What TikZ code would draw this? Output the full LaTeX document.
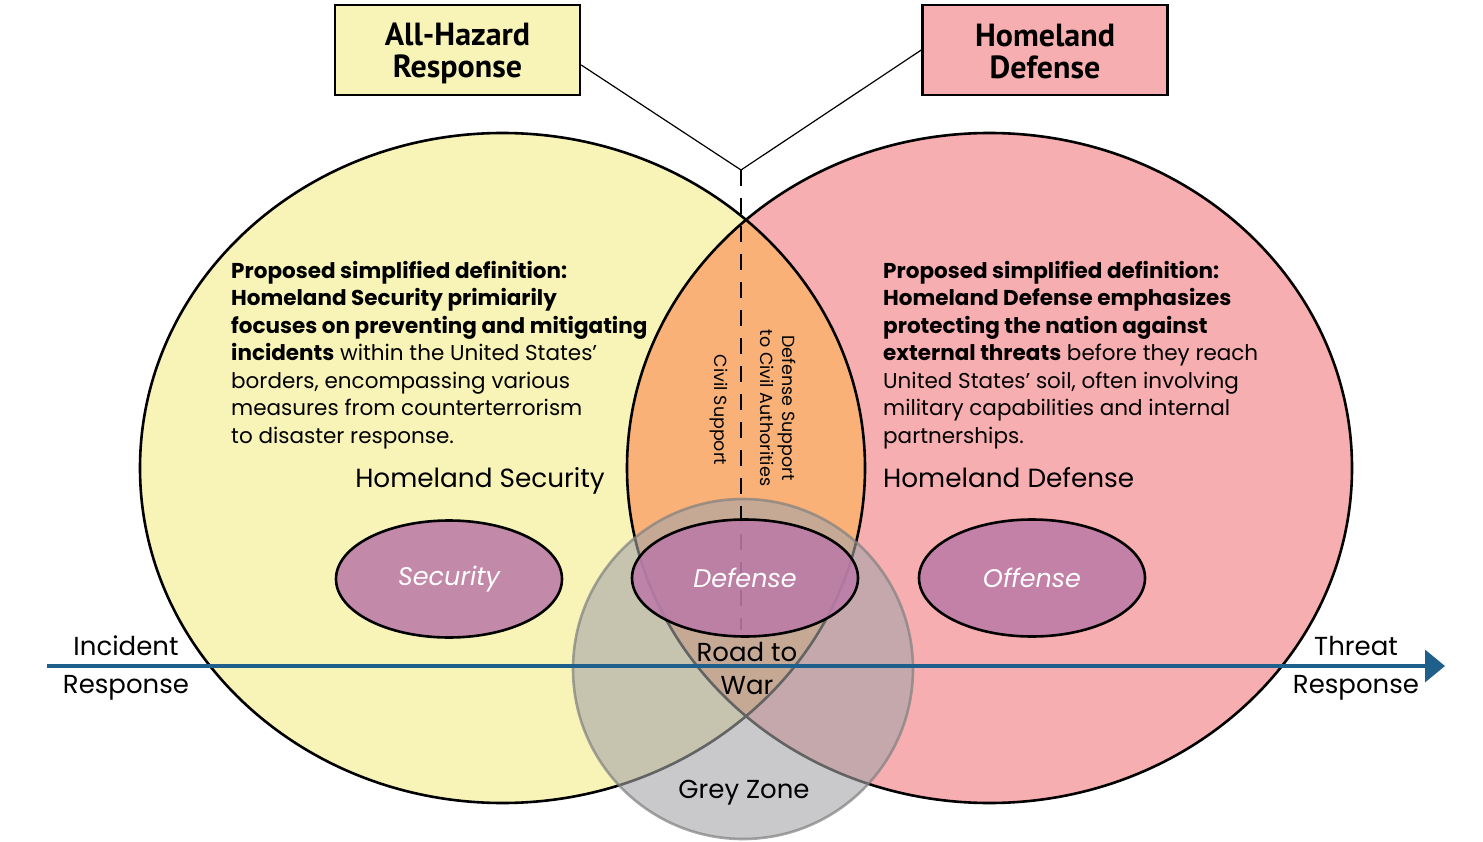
\documentclass[tikz,border=0pt]{standalone}
\usepackage{fontspec}
\setmainfont{Poppins}
\newfontfamily\boxfont{PT Sans}
\usetikzlibrary{arrows.meta}
\definecolor{cyel}{RGB}{248,244,184}
\definecolor{cpink}{RGB}{247,174,176}
\definecolor{corange}{RGB}{249,177,119}
\definecolor{cgrey}{RGB}{165,165,168}
\definecolor{cpurple}{RGB}{188,123,168}
\definecolor{caxis}{RGB}{31,95,140}
\tikzset{
  x=1pt, y=-1pt,
  bigcirc/.style={line width=2.6pt},
  topbox/.style={draw, line width=2.4pt, minimum width=245pt, minimum height=90pt, inner sep=0},
  boxtext/.style={inner sep=0, align=center, font=\boxfont\bfseries\fontsize{32}{32}\selectfont},
  defn/.style={anchor=north west, inner sep=0, align=left, font=\fontsize{21.5}{27.5}\selectfont},
  circlabel/.style={inner sep=0, font=\fontsize{26.3}{30}\selectfont},
  small/.style={inner sep=0, font=\fontsize{26}{33}\selectfont, align=center},
  purp/.style={draw, line width=2.6pt, fill=cpurple, fill opacity=0.88, minimum width=226pt, minimum height=117pt, ellipse, text=white, text opacity=1, font=\itshape\fontsize{25.5}{28}\selectfont},
  rot/.style={rotate=-90, inner sep=0, align=center, font=\fontsize{17.5}{22}\selectfont},
  leader/.style={line width=1.2pt}
}
\usetikzlibrary{shapes.geometric}
\begin{document}
\begin{tikzpicture}
\useasboundingbox (0,0) rectangle (1483,842);
% big circles
\fill[cyel] (502.5,468) ellipse [x radius=362.5, y radius=335];
\fill[cpink] (989.5,468) ellipse [x radius=362.5, y radius=335];
\begin{scope}
  \clip (502.5,468) ellipse [x radius=362.5, y radius=335];
  \fill[corange] (989.5,468) ellipse [x radius=362.5, y radius=335];
\end{scope}
\draw[bigcirc] (502.5,468) ellipse [x radius=362.5, y radius=335];
\draw[bigcirc] (989.5,468) ellipse [x radius=362.5, y radius=335];
% boxes and leaders
\node[topbox, fill=cyel] (ahr) at (457.5,50) {};
\node[boxtext] (ahrt) at (457.5,53.5) {All-Hazard\\Response};
\node[topbox, fill=cpink] (hdb) at (1045,50) {};
\node[boxtext] (hdbt) at (1045,52) {Homeland\\Defense};
\coordinate (join) at (741,170);
\coordinate (dashend) at (741,630);
\draw[leader] (ahr.east |- 0,65) -- (join);
\draw[leader] (hdb.west |- 0,50) -- (join);
% grey zone circle
\node[circle, minimum size=340pt, inner sep=0, fill=cgrey, fill opacity=0.6, draw=gray, draw opacity=0.7, line width=2.6pt] (grey) at (743,669) {};
% dashed line
\draw[line width=1.6pt, dash pattern=on 16pt off 12pt] (join) -- (dashend);
% axis
\coordinate (axs) at (47,666);
\coordinate (axe) at (1445,666);
\draw[caxis, line width=3.6pt, -{Triangle[length=20pt, width=32pt]}] (axs) -- (axe);
% ellipses
\node[purp] (sec) at (449,579) {Security};
\node[purp] (def) at (745,578) {Defense};
\node[purp] (off) at (1032,578) {Offense};
% labels
\node[circlabel, anchor=base east] (hs) at (605,487) {Homeland Security};
\node[circlabel, anchor=base west] (hd) at (883,487) {Homeland Defense};
\node[defn] (ldef) at (231,261) {\textbf{Proposed simplified definition:}\\\textbf{Homeland Security primiarily}\\\textbf{focuses on preventing and mitigating}\\\textbf{incidents} within the United States’\\borders, encompassing various\\measures from counterterrorism\\to disaster response.};
\node[defn] (rdef) at (883,261) {\textbf{Proposed simplified definition:}\\\textbf{Homeland Defense emphasizes}\\\textbf{protecting the nation against}\\\textbf{external threats} before they reach\\United States’ soil, often involving\\military capabilities and internal\\partnerships.};
\node[rot] (cs) at (719,410) {Civil Support};
\node[rot] (dsca) at (778,408) {Defense Support\\to Civil Authorities};
\node[small] (rtw) at (747,668) {Road to\\War};
\node[small] (gz) at (744,793) {Grey Zone};
\node[small] (ir) at (126,668) {Incident\\[5pt]Response};
\node[small] (tr) at (1356,668) {Threat\\[5pt]Response};
\end{tikzpicture}
\end{document}
